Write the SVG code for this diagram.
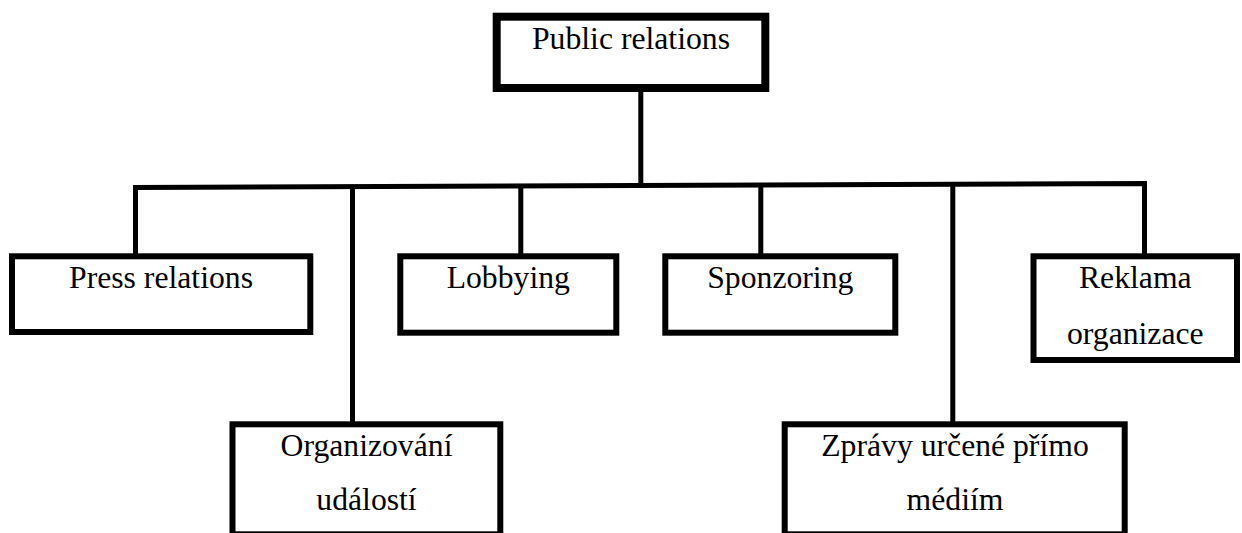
<svg xmlns="http://www.w3.org/2000/svg" width="1242" height="533" viewBox="0 0 1242 533">
<style>
.box{fill:#fff;stroke:#000;stroke-width:6}
.top{stroke-width:8}
.ln{fill:none;stroke:#000;stroke-width:5;stroke-linejoin:miter;stroke-linecap:butt}
text{font-family:"Liberation Serif","Times New Roman",serif;font-size:31.7px;fill:#000;text-anchor:middle}
</style>
<rect width="1242" height="533" fill="#fff"/>
<g id="connectors">
<line class="ln" x1="640.8" y1="90" x2="640.8" y2="186"/>
<path class="ln" d="M135.5 254 V187.5 L1144.5 183.5 V254"/>
<line class="ln" x1="352.5" y1="186" x2="352.5" y2="422"/>
<line class="ln" x1="520.8" y1="186" x2="520.8" y2="254"/>
<line class="ln" x1="760.8" y1="185" x2="760.8" y2="254"/>
<line class="ln" x1="952.8" y1="184" x2="952.8" y2="422"/>
</g>
<g id="public-relations">
<rect class="box top" x="496.7" y="16.7" width="268.6" height="71.3"/>
<text x="631" y="49.3">Public relations</text>
</g>
<g id="press-relations">
<rect class="box" x="12" y="256.3" width="298.3" height="75.7"/>
<text x="161" y="288.3">Press relations</text>
</g>
<g id="lobbying">
<rect class="box" x="400.3" y="256.3" width="216" height="76.4"/>
<text x="508.3" y="288.3">Lobbying</text>
</g>
<g id="sponzoring">
<rect class="box" x="665.3" y="256.3" width="230" height="76.4"/>
<text x="780.3" y="288.3">Sponzoring</text>
</g>
<g id="reklama">
<rect class="box" x="1033.5" y="256.3" width="203.5" height="103.7"/>
<text x="1135.3" y="288.3">Reklama</text>
<text x="1135.3" y="343.5">organizace</text>
</g>
<g id="organizovani">
<rect class="box" x="232.5" y="424.3" width="267.8" height="110"/>
<text x="366.5" y="456">Organizování</text>
<text x="366.5" y="510">událostí</text>
</g>
<g id="zpravy">
<rect class="box" x="784.7" y="424.3" width="340" height="110"/>
<text x="955" y="456">Zprávy určené přímo</text>
<text x="955" y="510">médiím</text>
</g>
</svg>
